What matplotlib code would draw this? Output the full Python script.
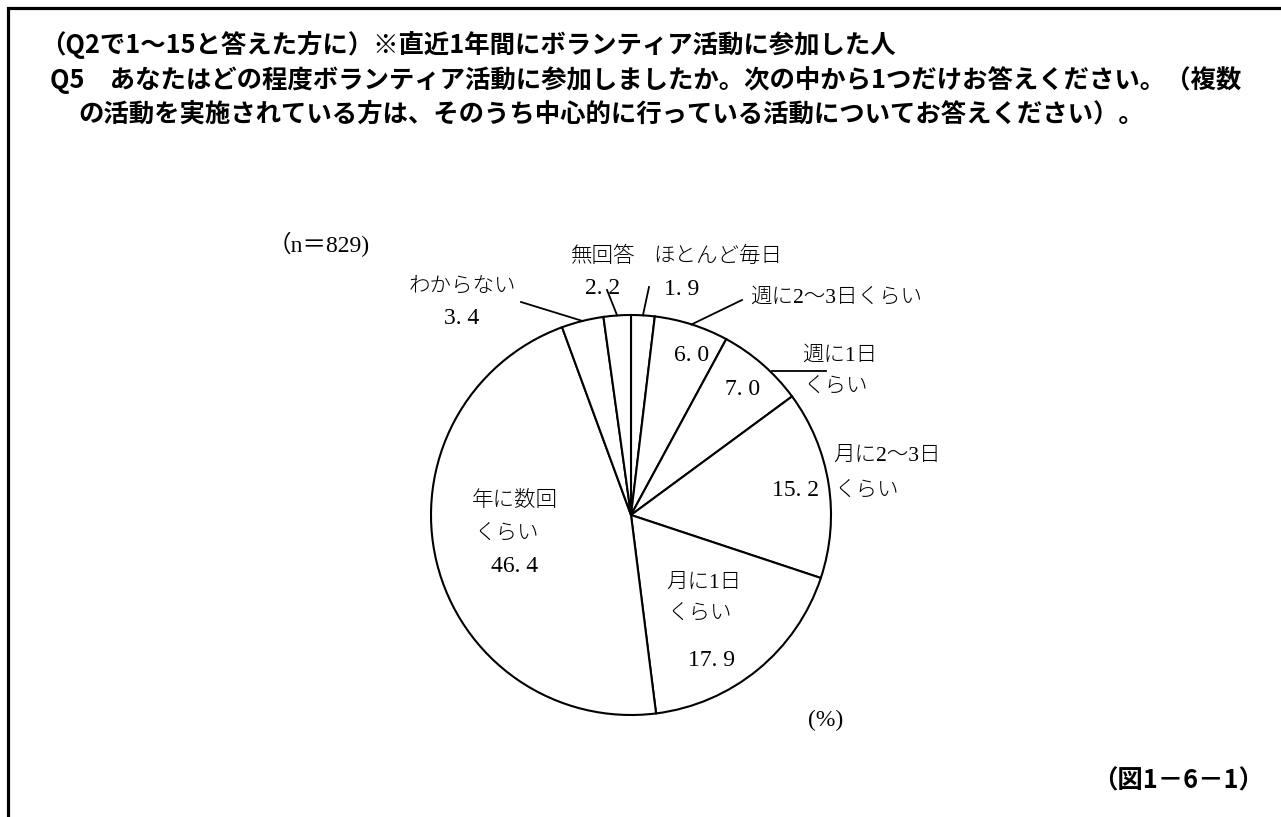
import numpy as np
import matplotlib
matplotlib.use("Agg")
import matplotlib.pyplot as plt

plt.rcParams['font.family'] = ['Noto Sans CJK JP', 'DejaVu Sans']

W, H = 1281, 817

categories = ["ほとんど毎日", "週に2～3日くらい", "週に1日くらい", "月に2～3日くらい",
              "月に1日くらい", "年に数回くらい", "わからない", "無回答"]
values = [1.9, 6.0, 7.0, 15.2, 17.9, 46.4, 3.4, 2.2]

title_lines = [
    "（Q2で1～15と答えた方に）※直近1年間にボランティア活動に参加した人",
    "Q5　あなたはどの程度ボランティア活動に参加しましたか。次の中から1つだけお答えください。（複数",
    "の活動を実施されている方は、そのうち中心的に行っている活動についてお答えください）。",
]
n_label = "（n＝829)"
unit_label = "(%)"
fig_label = "（図1－6－1）"

fig = plt.figure(figsize=(W / 100, H / 100), dpi=100)
ax = fig.add_axes([0, 0, 1, 1])

def Y(y):
    return H - y

def fmt(v):
    return f"{v:.1f}".replace(".", ". ")

cx, cy, R = 631, 515, 200
ax.pie(values, startangle=90, counterclock=False, center=(cx, Y(cy)), radius=R,
       wedgeprops=dict(facecolor="white", edgecolor="black", linewidth=1.5),
       frame=True)
ax.set_xlim(0, W)
ax.set_ylim(0, H)
ax.set_aspect("auto")
ax.axis("off")

# frame
ax.plot([8, 8, W], [0, Y(8), Y(8)], color="black", lw=2.3, solid_capstyle="butt",
        solid_joinstyle="miter")

# title
tkw = dict(fontsize=18.3, fontweight="bold", va="center", ha="left", color="black")
ax.text(40, Y(45), title_lines[0], **tkw)
ax.text(50, Y(80), title_lines[1], **tkw)
ax.text(78, Y(114), title_lines[2], **tkw)
ax.text(1264, Y(781), fig_label, fontsize=18.3, fontweight="bold", va="center", ha="right")

lab_family = ['Liberation Serif', 'Noto Sans CJK JP']
JS = 15.5   # japanese label size
NS = 17     # number label size
lkw = dict(fontsize=JS, va="center", ha="center", family=lab_family, color="black", fontweight="light")
nkw = dict(fontsize=NS, va="center", ha="center", family=lab_family, color="black")
lkl = dict(fontsize=JS, va="center", ha="left", family=lab_family, color="black", fontweight="light")

ax.text(268, Y(244), n_label, fontsize=NS, va="center", ha="left", family=lab_family)
ax.text(826, Y(720), unit_label, **nkw)

# cumulative angles
frac = np.array(values) / sum(values)
cum = np.concatenate([[0], np.cumsum(frac)])
mid = (cum[:-1] + cum[1:]) / 2

def on_circle(f, r=R):
    a = 2 * np.pi * f
    return cx + r * np.sin(a), cy - r * np.cos(a)

def leader(i, end):
    x0, y0 = on_circle(mid[i])
    ax.plot([x0, end[0]], [Y(y0), Y(end[1])], color="black", lw=1.3)

# outside labels with leader lines
leader(0, (649, 287))
ax.text(718, Y(257), "ほとんど毎日", **lkw)
ax.text(682, Y(289), fmt(values[0]), **nkw)

leader(7, (607, 290))
ax.text(603, Y(257), "無回答", **lkw)
ax.text(603, Y(288), fmt(values[7]), **nkw)

leader(6, (521, 302))
ax.text(462, Y(287), "わからない", **lkw)
ax.text(462, Y(318), fmt(values[6]), **nkw)

leader(1, (742, 300))
ax.text(750, Y(298), "週に2～3日くらい", **lkl)

ax.plot([772, 826], [Y(371), Y(371)], color="black", lw=1.3)
ax.text(802, Y(356), "週に1日", **lkl)
ax.text(804, Y(387), "くらい", **lkl)

ax.text(833, Y(456), "月に2～3日", **lkl)
ax.text(835, Y(491), "くらい", **lkl)

# inside labels
ax.text(692, Y(355), fmt(values[1]), **nkw)
ax.text(743, Y(389), fmt(values[2]), **nkw)
ax.text(795, Y(490), fmt(values[3]), **nkw)

ax.text(666, Y(583), "月に1日", **lkl)
ax.text(668, Y(614), "くらい", **lkl)
ax.text(712, Y(660), fmt(values[4]), **nkw)

ax.text(472, Y(501), "年に数回", **lkl)
ax.text(475, Y(534), "くらい", **lkl)
ax.text(515, Y(567), fmt(values[5]), **nkw)

fig.savefig("out.png", dpi=100, facecolor="white")
